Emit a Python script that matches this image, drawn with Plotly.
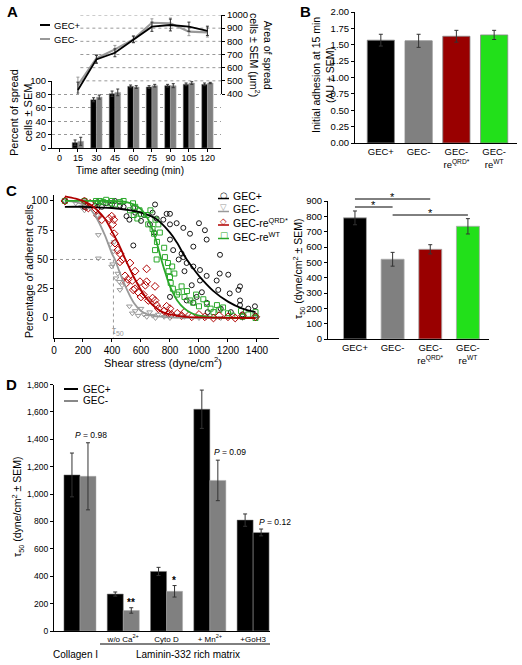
import plotly.graph_objects as go

W, H = 522, 665
FONT = "Liberation Sans, Arial, sans-serif"

# ---------------- DATA ----------------
# Panel A
A_tick_vals = [0, 15, 30, 45, 60, 75, 90, 105, 120]
A_times = [15, 30, 45, 60, 75, 90, 105, 120]
A_spread_pos = [8, 72, 81, 92, 91, 93, 95, 95]
A_spread_pos_err = [4, 3, 4, 2, 2, 2, 2, 2]
A_spread_neg = [10, 76, 83, 91, 93, 93, 97, 97]
A_spread_neg_err = [6, 3, 5, 2, 2, 3, 2, 1]
A_area_pos = [430, 663, 713, 815, 911, 924, 911, 880]
A_area_pos_err = [60, 30, 30, 25, 35, 45, 35, 35]
A_area_neg = [468, 670, 739, 815, 941, 937, 873, 868]
A_area_neg_err = [60, 30, 30, 25, 30, 40, 30, 35]
A_area_ticks = [400, 500, 600, 700, 800, 900, 1000]

# Panel B
B_categories = ["GEC+", "GEC-", "GEC-reQRD*", "GEC-reWT"]
B_ticktext = ["GEC+", "GEC-", "GEC-<br>re<sup>QRD*</sup>", "GEC-<br>re<sup>WT</sup>"]
B_values = [1.57, 1.56, 1.63, 1.65]
B_err = [0.09, 0.10, 0.09, 0.07]
B_colors = ["#000000", "#808080", "#990000", "#22e01a"]

# Panel C (scatter of adherent cells)
C_pos_x = [75, 210, 283, 300, 330, 360, 400, 420, 455, 480, 500, 520, 547, 547, 560, 600, 620, 662, 680, 690,
           697, 708, 754, 777, 800, 800, 800, 800, 822, 846, 860, 880, 892, 892, 900, 915, 915, 938, 950, 961,
           961, 961, 984, 1000, 1007, 1007, 1020, 1041, 1053, 1053, 1053, 1060, 1122, 1133, 1145, 1143, 1150,
           1202, 1212, 1220, 1272, 1283, 1283, 1283, 1300, 1340, 1386, 1390]
C_pos_y = [100, 95, 96, 99, 95, 98, 97, 100, 96, 95, 87, 84, 94, 62, 90, 83, 88, 80, 90, 73,
           97, 85, 84, 89, 89, 80, 67, 18, 58, 81, 50, 55, 77, 52, 40, 47, 15, 72, 28, 61,
           44, 13, 18, 81, 41, 32, 22, 75, 67, 36, 13, 5, 32, 24, 54, 38, 8,
           37, 21, 5, 24, 27, 15, 11, 3, 8, 10, 2]
C_neg_x = [75, 150, 190, 210, 210, 300, 306, 306, 390, 398, 405, 410, 415, 428, 440, 450, 455, 470, 520, 540,
           560, 580, 600, 620, 640, 660, 680, 700, 720, 760, 800, 850, 900, 1000, 1050, 1150, 1200, 1300, 1400]
C_neg_y = [100, 98, 95, 92, 100, 88, 71, 51, 63, 44, 46, 57, 65, 34, 38, 31, 24, 28, 10, 4,
           6, 2, 8, 3, 1, 5, 2, 0, 3, 1, 0, 2, 1, 0, 1, 0, 1, 0, 0]
C_qrd_x = [75, 210, 220, 237, 248, 290, 300, 306, 329, 380, 398, 405, 413, 415, 421, 440, 455, 455, 470, 490,
           500, 510, 524, 540, 547, 559, 559, 580, 593, 600, 616, 630, 639, 639, 650, 680, 697, 697, 708, 720,
           760, 777, 790, 800, 810, 850, 880, 900, 950, 1000, 1040, 1100, 1140, 1200, 1250, 1300, 1390]
C_qrd_y = [100, 100, 95, 94, 98, 93, 88, 87, 84, 85, 87, 80, 84, 72, 64, 58, 55, 48, 50, 36,
           30, 33, 47, 32, 24, 40, 25, 22, 31, 18, 20, 28, 42, 31, 15, 17, 27, 15, 11, 8,
           6, 10, 4, 8, 3, 4, 2, 5, 1, 3, 1, 0, 2, 1, 0, 2, 1]
C_wt_x = [75, 210, 215, 290, 300, 317, 340, 360, 385, 400, 420, 455, 480, 524, 545, 550, 560, 575, 590, 600,
          640, 650, 665, 680, 690, 700, 710, 720, 697, 708, 730, 760, 765, 786, 790, 800, 805, 815, 820, 830,
          848, 860, 880, 900, 917, 940, 960, 980, 1000, 1030, 1055, 1080, 1100, 1124, 1140, 1166, 1200, 1230,
          1290, 1300, 1340, 1390, 1390]
C_wt_y = [100, 100, 97, 100, 98, 100, 99, 101, 98, 100, 97, 99, 100, 92, 98, 88, 95, 85, 92, 89,
          88, 80, 92, 76, 72, 84, 65, 80, 58, 50, 73, 60, 52, 47, 40, 35, 30, 44, 25, 38,
          20, 22, 27, 18, 23, 15, 13, 20, 10, 16, 12, 8, 5, 11, 7, 9, 4, 2,
          6, 1, 3, 5, 0]
# fitted curves
C_fit_pos_x = [75, 200, 300, 400, 500, 600, 700, 800, 850, 900, 950, 1000, 1100, 1200, 1300, 1390]
C_fit_pos_y = [95, 95, 94.5, 94, 92.5, 90, 85, 73, 64, 53, 44, 36, 23, 14, 8, 5]
C_fit_neg_x = [75, 150, 200, 250, 300, 350, 400, 420, 450, 500, 550, 600, 650, 700, 800, 1000, 1390]
C_fit_neg_y = [100, 99, 97, 93, 84, 71, 55, 50, 40, 25, 13, 6, 3, 1.5, 0.5, 0, 0]
C_fit_qrd_x = [75, 150, 200, 250, 300, 350, 400, 450, 500, 550, 600, 650, 700, 750, 800, 900, 1000, 1390]
C_fit_qrd_y = [104, 102, 100, 97, 92, 85, 74, 62, 48, 35, 24, 15, 9, 5, 3, 1, 0.5, 0]
C_fit_wt_x = [75, 300, 400, 500, 550, 600, 650, 700, 740, 780, 800, 850, 900, 950, 1000, 1100, 1390]
C_fit_wt_y = [100, 100, 100, 99, 97, 93, 84, 68, 50, 34, 27, 15, 8, 4, 2, 0.5, 0]
C_tau50_ref = 410

# Panel C right
C_tau_values = [790, 520, 585, 735]
C_tau_err = [45, 45, 30, 50]
C_sig_pairs = [(0, 2), (0, 1), (1, 3)]

# Panel D
D_groups = ["Collagen I", "w/o Ca2+", "Cyto D", "+ Mn2+", "+GoH3"]
D_ticktext = ["", "w/o Ca<sup>2+</sup>", "Cyto D", "+ Mn<sup>2+</sup>", "+GoH3"]
D_pos = [1140, 270, 435, 1620, 810]
D_pos_err = [160, 15, 30, 140, 45]
D_neg = [1130, 150, 290, 1100, 720]
D_neg_err = [245, 20, 42, 148, 25]
D_neg_colors = ["#808080", "#808080", "#808080", "#808080", "#000000"]

# ---------------- helpers ----------------
def xd(a, b):
    return [a / W, b / W]

def yd(top, bottom):
    return [1 - bottom / H, 1 - top / H]

def px(x):
    return x / W

def py(y):
    return 1 - y / H

annotations = []
shapes = []

def ann(x, y, text, size=10, xanchor="center", yanchor="middle", angle=0, color="black", bold=False, family=FONT):
    if bold:
        text = "<b>" + text + "</b>"
    annotations.append(dict(x=px(x), y=py(y), xref="paper", yref="paper", text=text, showarrow=False,
                            xanchor=xanchor, yanchor=yanchor, textangle=angle,
                            font=dict(size=size, color=color, family=family)))

def pline(x0, y0, x1, y1, color="black", width=1, dash="solid"):
    shapes.append(dict(type="line", xref="paper", yref="paper", x0=px(x0), y0=py(y0), x1=px(x1), y1=py(y1),
                       line=dict(color=color, width=width, dash=dash)))

axis_common = dict(showline=True, linecolor="black", linewidth=1, ticks="outside", ticklen=3, tickwidth=1,
                   tickcolor="black", showgrid=False, zeroline=False, automargin=False, tickangle=0,
                   tickfont=dict(size=10, family=FONT, color="black"))

fig = go.Figure()

# ---------------- Panel A ----------------
eb = dict(type="data", thickness=1, width=1.5, color="#333")
fig.add_trace(go.Bar(x=A_times, y=A_spread_pos, width=4.6, offset=-4.6, marker=dict(color="black", line=dict(width=0.5, color="#777")),
                     error_y=dict(array=A_spread_pos_err, **eb), xaxis="x", yaxis="y", showlegend=False))
fig.add_trace(go.Bar(x=A_times, y=A_spread_neg, width=4.6, offset=0, marker=dict(color="#808080", line=dict(width=0.5, color="#aaa")),
                     error_y=dict(array=A_spread_neg_err, **eb), xaxis="x", yaxis="y", showlegend=False))
fig.add_trace(go.Scatter(x=A_times, y=A_area_neg, mode="lines", line=dict(color="#999999", width=2.2),
                         error_y=dict(array=A_area_neg_err, type="data", thickness=1, width=1.5, color="#999"),
                         xaxis="x", yaxis="y2", showlegend=False))
fig.add_trace(go.Scatter(x=A_times, y=A_area_pos, mode="lines", line=dict(color="black", width=1.8),
                         error_y=dict(array=A_area_pos_err, type="data", thickness=1, width=1.5, color="#333"),
                         xaxis="x", yaxis="y2", showlegend=False))
for v in A_area_ticks[1:]:
    shapes.append(dict(type="line", xref="x", yref="y2", x0=17, x1=131, y0=v, y1=v,
                       line=dict(color="#999", width=1, dash="dot"), layer="below"))

# ---------------- Panel B ----------------
fig.add_trace(go.Bar(x=B_categories, y=B_values, width=0.72, marker=dict(color=B_colors, line=dict(width=0.8, color="#888")),
                     error_y=dict(array=B_err, type="data", thickness=1, width=2, color="#333"),
                     xaxis="x2", yaxis="y3", showlegend=False))

# ---------------- Panel C left ----------------
shapes.append(dict(type="line", xref="x3", yref="y4", x0=0, x1=C_tau50_ref, y0=50, y1=50,
                   line=dict(color="#999", width=1, dash="dot")))
shapes.append(dict(type="line", xref="x3", yref="y4", x0=C_tau50_ref, x1=C_tau50_ref, y0=50, y1=-17,
                   line=dict(color="#999", width=1, dash="dot")))
msz = 5
fig.add_trace(go.Scatter(x=C_neg_x, y=C_neg_y, mode="markers", marker=dict(symbol="triangle-down-open", size=msz, color="#999", line=dict(width=1)),
                         xaxis="x3", yaxis="y4", showlegend=False, cliponaxis=False))
fig.add_trace(go.Scatter(x=C_pos_x, y=C_pos_y, mode="markers", marker=dict(symbol="circle-open", size=msz, color="black", line=dict(width=0.9)),
                         xaxis="x3", yaxis="y4", showlegend=False, cliponaxis=False))
fig.add_trace(go.Scatter(x=C_wt_x, y=C_wt_y, mode="markers", marker=dict(symbol="square-open", size=msz, color="#2aa82a", line=dict(width=1)),
                         xaxis="x3", yaxis="y4", showlegend=False, cliponaxis=False))
fig.add_trace(go.Scatter(x=C_qrd_x, y=C_qrd_y, mode="markers", marker=dict(symbol="diamond-open", size=msz + 1, color="#b00000", line=dict(width=1)),
                         xaxis="x3", yaxis="y4", showlegend=False, cliponaxis=False))
for fx, fy, col in [(C_fit_neg_x, C_fit_neg_y, "#999"), (C_fit_pos_x, C_fit_pos_y, "black"),
                    (C_fit_wt_x, C_fit_wt_y, "#2aa82a"), (C_fit_qrd_x, C_fit_qrd_y, "#b00000")]:
    fig.add_trace(go.Scatter(x=fx, y=fy, mode="lines", line=dict(color=col, width=1.8, shape="spline", smoothing=1),
                             xaxis="x3", yaxis="y4", showlegend=False, cliponaxis=False))

# ---------------- Panel C right ----------------
fig.add_trace(go.Bar(x=B_categories, y=C_tau_values, width=0.61, marker=dict(color=B_colors, line=dict(width=0.8, color="#aaa")),
                     error_y=dict(array=C_tau_err, type="data", thickness=1, width=2, color="#333"),
                     xaxis="x4", yaxis="y5", showlegend=False, cliponaxis=False))
for (i0, i1), ypx in zip(C_sig_pairs, [199, 207, 215]):
    shapes.append(dict(type="line", xref="x4", yref="paper", x0=i0, x1=i1, y0=py(ypx), y1=py(ypx),
                       line=dict(color="black", width=1)))
    annotations.append(dict(x=(i0 + i1) / 2, y=py(ypx), xref="x4", yref="paper", text="*", showarrow=False,
                            yanchor="bottom", yshift=-6, font=dict(size=11, family=FONT, color="black")))

# ---------------- Panel D ----------------
fig.add_trace(go.Bar(x=D_groups, y=D_pos, width=0.37, offset=-0.37, marker=dict(color="black", line=dict(width=0.5, color="#777")),
                     error_y=dict(array=D_pos_err, type="data", thickness=1, width=2, color="#333"),
                     xaxis="x5", yaxis="y6", showlegend=False, cliponaxis=False))
fig.add_trace(go.Bar(x=D_groups, y=D_neg, width=0.37, offset=0, marker=dict(color=D_neg_colors, line=dict(width=0.5, color="#aaa")),
                     error_y=dict(array=D_neg_err, type="data", thickness=1, width=2, color="#333"),
                     xaxis="x5", yaxis="y6", showlegend=False, cliponaxis=False))

# ---------------- Layout axes ----------------
layout = dict(
    template="none",
    width=W, height=H, margin=dict(l=0, r=0, t=0, b=0, autoexpand=False),
    paper_bgcolor="white", plot_bgcolor="rgba(0,0,0,0)", barmode="overlay",
    font=dict(family=FONT, color="black"), hovermode=False,
    xaxis=dict(axis_common, domain=xd(52, 221), range=[-6, 131], tickvals=A_tick_vals, anchor="y",
               tickfont=dict(size=9, family=FONT), ticklabelstandoff=-2),
    yaxis=dict(axis_common, domain=yd(81, 148), range=[0, 100], dtick=20, anchor="x",
               showgrid=True, gridcolor="#999", griddash="dot", gridwidth=1, tickfont=dict(size=9.5, family=FONT)),
    yaxis2=dict(axis_common, domain=yd(15, 94), range=[400, 1000], dtick=100, anchor="x", side="right",
                tickfont=dict(size=9.5, family=FONT)),
    xaxis2=dict(axis_common, domain=xd(355, 517), range=[-0.684, 3.605], type="category",
                tickvals=B_categories, ticktext=B_ticktext, anchor="y3", ticks="", tickfont=dict(size=9.5, family=FONT)),
    yaxis3=dict(axis_common, domain=yd(12, 143), range=[0, 2], dtick=0.25, tickformat=".2f", anchor="x2",
                tickfont=dict(size=9.5, family=FONT)),
    xaxis3=dict(axis_common, domain=xd(54, 279), range=[0, 1552], tickvals=[0, 200, 400, 600, 800, 1000, 1200, 1400], anchor="y4"),
    yaxis4=dict(axis_common, domain=yd(195, 338), range=[-17.1, 105.1], tickvals=[0, 25, 50, 75, 100], anchor="x3"),
    xaxis4=dict(axis_common, domain=xd(328, 489), range=[-0.716, 3.56], type="category",
                tickvals=B_categories, ticktext=B_ticktext, anchor="y5", ticks="", tickfont=dict(size=9.5, family=FONT)),
    yaxis5=dict(axis_common, domain=yd(201, 339), range=[0, 900], dtick=100, anchor="x4",
                tickfont=dict(size=9.5, family=FONT)),
    xaxis5=dict(axis_common, domain=xd(54, 270), range=[-0.6, 4.39], type="category",
                tickvals=D_groups, ticktext=D_ticktext, anchor="y6", ticks="", tickfont=dict(size=8, family=FONT)),
    yaxis6=dict(axis_common, domain=yd(384.6, 631), range=[0, 1800], dtick=200, tickformat=",", anchor="x5",
                tickfont=dict(size=8.5, family=FONT)),
)

# ---------------- Text / decorations ----------------
ann(12, 12, "A", 15, bold=True)
ann(305, 12, "B", 15, bold=True)
ann(11, 190, "C", 15, bold=True)
ann(11, 384, "D", 15, bold=True)

# A
ann(21, 113, "Percent of spread<br>cells ± SEM", 11, angle=-90)
ann(261, 55, "Area of spread<br>cells ± SEM (μm<sup>2</sup>)", 10.5, angle=90)
ann(130, 170, "Time after seeding (min)", 10)
pline(40, 25, 50, 25, "black", 2)
pline(40, 39, 50, 39, "#999", 2)
ann(52, 25, "GEC+", 9.5, xanchor="left")
ann(52, 39, "GEC-", 9.5, xanchor="left")

# B
ann(323, 75, "Initial adhesion at 15 min<br>(AU ± SEM)", 10.5, angle=-90)

# C left
ann(29, 271, "Percentage of adherent cells", 10.5, angle=-90)
ann(163, 362, "Shear stress (dyne/cm<sup>2</sup>)", 11)
ann(118, 331, "τ<sub>50</sub>", 10, color="#999")
leg = [("○", "GEC+", "black", 195), ("▽", "GEC-", "#999", 208), ("◇", "GEC-re<sup>QRD*</sup>", "#b00000", 221.5),
       ("□", "GEC-re<sup>WT</sup>", "#2aa82a", 235)]
for sym, lab, col, yy in leg:
    ann(223.5, yy - 0.5, sym, 8.5, color=col, family="DejaVu Sans")
    pline(218, yy + 3.5, 229, yy + 3.5, col, 1.5)
    ann(231, yy + 1, lab, 10.5, xanchor="left")

# C right
ann(299, 269, "τ<sub>50</sub> (dyne/cm<sup>2</sup> ± SEM)", 10.5, angle=-90)

# D
ann(18, 507, "τ<sub>50</sub> (dyne/cm<sup>2</sup> ± SEM)", 10.5, angle=-90)
pline(64, 389, 78, 389, "black", 2)
pline(64, 401, 78, 401, "#888", 2)
ann(81, 389, "GEC+", 10, xanchor="left")
ann(81, 401, "GEC-", 10, xanchor="left")
ann(73, 435, "<i>P</i> = 0.98", 8.5, xanchor="left")
ann(212, 452, "<i>P</i> = 0.09", 8.5, xanchor="left")
ann(257, 522, "<i>P</i> = 0.12", 8.5, xanchor="left")
ann(131, 602, "**", 10, bold=True)
ann(174, 580, "*", 10, bold=True)
pline(100, 644, 270, 644, "black", 1)
ann(75, 654, "Collagen I", 10)
ann(188, 654, "Laminin-332 rich matrix", 10)

layout["annotations"] = annotations
layout["shapes"] = shapes
fig.update_layout(**layout)
fig.write_html("out.html", config={"displayModeBar": False, "staticPlot": True},
               post_script="document.body.style.margin='0px';document.body.style.padding='0px';")
